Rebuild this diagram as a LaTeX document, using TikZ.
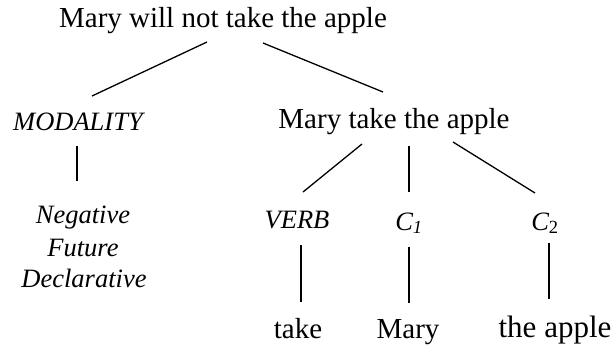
\documentclass[tikz,border=0pt]{standalone}
\usepackage{fontspec}
\setmainfont{Liberation Serif}
\usetikzlibrary{calc}
\tikzset{
  lbl/.style={anchor=base, inner sep=0pt, font=\fontsize{29}{32}\selectfont},
  ilbl/.style={anchor=base, inner sep=0pt, font=\fontsize{26.5}{32}\selectfont\itshape},
  big/.style={anchor=base, inner sep=0pt, font=\fontsize{31}{34}\selectfont},
  edge/.style={line width=1.3pt}
}
\begin{document}
\begin{tikzpicture}[x=1pt,y=1pt]
\useasboundingbox[fill=white] (0,0) rectangle (615,-349);
\node[lbl] (title) at (223,-27) {Mary will not take the apple};
\node[ilbl] (mod) at (78,-130) {MODALITY};
\node[lbl] (mta) at (394,-128) {Mary take the apple};
\node[ilbl] (neg) at (83,-223) {Negative};
\node[ilbl] (fut) at (83,-256) {Future};
\node[ilbl] (decl) at (84,-287) {Declarative};
\node[ilbl] (verb) at (297,-228) {VERB};
\node[ilbl] (c1) at (409,-230) {C\textsubscript{1}};
\node[ilbl] (c2) at (545,-230) {C\textsubscript{\upshape 2}};
\node[lbl] (take) at (298,-338) {take};
\node[lbl] (mary) at (408,-338) {Mary};
\node[big] (apple) at (555,-337) {the apple};

\draw[edge] ($(title.base)+(-16,-15)$) -- ($(mod.base)+(14,34)$);
\draw[edge] ($(title.base)+(40,-16)$) -- ($(mta.base)+(-11,36)$);
\draw[edge] ($(mod.base)+(-1,-16)$) -- ($(neg.base)+(-6,42)$);
\draw[edge] ($(mta.base)+(-32,-16)$) -- ($(verb.base)+(6,36)$);
\draw[edge] ($(mta.base)+(15,-18)$) -- ($(c1.base)+(0,38)$);
\draw[edge] ($(mta.base)+(59,-14)$) -- ($(c2.base)+(-10,37)$);
\draw[edge] ($(verb.base)+(4,-17)$) -- ($(take.base)+(3,36)$);
\draw[edge] ($(c1.base)+(0,-17)$) -- ($(mary.base)+(1,35)$);
\draw[edge] ($(c2.base)+(4,-13)$) -- ($(apple.base)+(-6,38)$);
\end{tikzpicture}
\end{document}
